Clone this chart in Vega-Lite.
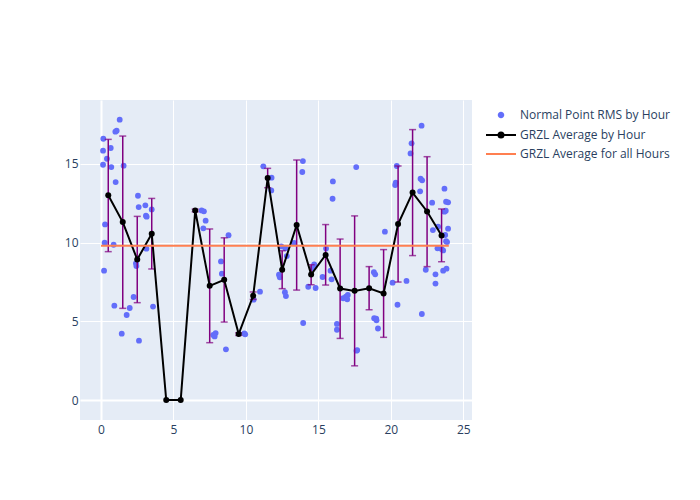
{
  "$schema": "https://vega.github.io/schema/vega-lite/v6.json",
  "autosize": {"type": "none"},
  "padding": {"left": 80, "top": 100, "right": 228, "bottom": 80},
  "width": 392,
  "height": 320,
  "background": "white",
  "config": {
    "view": {"fill": "#e5ecf6", "stroke": null},
    "font": "Open Sans",
    "axis": {
      "domain": false,
      "ticks": false,
      "gridColor": "white",
      "gridWidth": {"condition": {"test": "datum.value === 0", "value": 2}, "value": 1},
      "labelColor": "#2a3f5f",
      "labelFont": "Open Sans",
      "labelFontSize": 12,
      "title": null
    },
    "legend": {
      "orient": "none", "title": null, "padding": 0, "symbolSize": 100,
      "labelFontSize": 12, "labelFont": "Open Sans", "labelColor": "#2a3f5f", "labelOffset": 13,
      "symbolOpacity": 1
    }
  },
  "resolve": {"scale": {"color": "independent"}, "legend": {"color": "independent"}},
  "datasets": {
    "points": [
      {"hour": 0.16, "rms": 16.59}, {"hour": 0.14, "rms": 15.83}, {"hour": 0.67, "rms": 16.0}, {"hour": 0.41, "rms": 15.32},
      {"hour": 0.14, "rms": 14.94}, {"hour": 0.71, "rms": 14.79}, {"hour": 1.29, "rms": 17.8}, {"hour": 0.99, "rms": 17.04},
      {"hour": 1.08, "rms": 17.1}, {"hour": 1.56, "rms": 14.88}, {"hour": 1.01, "rms": 13.84}, {"hour": 0.28, "rms": 11.15},
      {"hour": 0.25, "rms": 9.99}, {"hour": 0.87, "rms": 9.86}, {"hour": 2.55, "rms": 12.97}, {"hour": 2.6, "rms": 12.25},
      {"hour": 3.06, "rms": 12.36}, {"hour": 3.1, "rms": 11.7}, {"hour": 3.15, "rms": 11.64}, {"hour": 3.5, "rms": 12.1},
      {"hour": 3.13, "rms": 9.61}, {"hour": 0.21, "rms": 8.21}, {"hour": 2.41, "rms": 8.68}, {"hour": 2.44, "rms": 8.51},
      {"hour": 2.25, "rms": 6.54}, {"hour": 0.92, "rms": 5.99}, {"hour": 1.98, "rms": 5.84}, {"hour": 1.77, "rms": 5.4},
      {"hour": 3.59, "rms": 5.93}, {"hour": 1.43, "rms": 4.21}, {"hour": 2.62, "rms": 3.77},
      {"hour": 6.94, "rms": 12.04}, {"hour": 7.1, "rms": 11.98}, {"hour": 7.22, "rms": 11.39}, {"hour": 7.06, "rms": 10.9},
      {"hour": 8.8, "rms": 10.46}, {"hour": 8.28, "rms": 8.8}, {"hour": 8.34, "rms": 8.02}, {"hour": 7.75, "rms": 4.13},
      {"hour": 7.91, "rms": 4.25}, {"hour": 7.84, "rms": 4.04}, {"hour": 8.62, "rms": 3.22},
      {"hour": 9.89, "rms": 4.23}, {"hour": 9.95, "rms": 4.17}, {"hour": 10.97, "rms": 6.88}, {"hour": 10.53, "rms": 6.37},
      {"hour": 11.2, "rms": 14.84}, {"hour": 11.77, "rms": 14.12}, {"hour": 11.75, "rms": 13.31},
      {"hour": 12.28, "rms": 7.96}, {"hour": 12.34, "rms": 7.79}, {"hour": 12.44, "rms": 9.75}, {"hour": 12.72, "rms": 9.63},
      {"hour": 12.82, "rms": 9.14}, {"hour": 13.32, "rms": 9.98}, {"hour": 12.69, "rms": 6.84}, {"hour": 12.76, "rms": 6.6},
      {"hour": 13.93, "rms": 15.17}, {"hour": 13.89, "rms": 14.48}, {"hour": 13.95, "rms": 4.89},
      {"hour": 14.3, "rms": 7.19}, {"hour": 14.81, "rms": 7.11}, {"hour": 14.71, "rms": 8.61}, {"hour": 14.6, "rms": 8.38},
      {"hour": 15.29, "rms": 7.81}, {"hour": 15.53, "rms": 9.62}, {"hour": 15.84, "rms": 8.21}, {"hour": 15.91, "rms": 7.66},
      {"hour": 16.0, "rms": 13.88}, {"hour": 15.98, "rms": 12.78},
      {"hour": 16.28, "rms": 4.83}, {"hour": 16.28, "rms": 4.46}, {"hour": 16.71, "rms": 6.46}, {"hour": 16.9, "rms": 6.56},
      {"hour": 16.99, "rms": 6.39}, {"hour": 17.03, "rms": 6.67}, {"hour": 17.63, "rms": 3.13}, {"hour": 17.68, "rms": 3.17},
      {"hour": 17.61, "rms": 14.79},
      {"hour": 18.83, "rms": 8.11}, {"hour": 18.92, "rms": 7.98}, {"hour": 18.85, "rms": 5.19}, {"hour": 18.99, "rms": 5.16},
      {"hour": 19.01, "rms": 5.06}, {"hour": 19.11, "rms": 4.54}, {"hour": 19.59, "rms": 10.69},
      {"hour": 20.41, "rms": 14.86}, {"hour": 20.34, "rms": 13.8}, {"hour": 20.3, "rms": 13.65}, {"hour": 20.12, "rms": 7.45},
      {"hour": 20.46, "rms": 6.05}, {"hour": 21.43, "rms": 16.3}, {"hour": 21.36, "rms": 15.66}, {"hour": 21.08, "rms": 7.56},
      {"hour": 22.12, "rms": 17.42}, {"hour": 22.05, "rms": 14.05}, {"hour": 22.16, "rms": 13.95}, {"hour": 22.02, "rms": 13.25},
      {"hour": 22.85, "rms": 12.53}, {"hour": 22.41, "rms": 8.27}, {"hour": 22.14, "rms": 5.46}, {"hour": 23.7, "rms": 13.42},
      {"hour": 23.81, "rms": 12.59}, {"hour": 23.95, "rms": 12.55}, {"hour": 23.7, "rms": 11.96}, {"hour": 23.79, "rms": 12.02},
      {"hour": 23.26, "rms": 11.0}, {"hour": 23.95, "rms": 10.88}, {"hour": 22.9, "rms": 10.79}, {"hour": 23.75, "rms": 10.48},
      {"hour": 23.81, "rms": 10.08}, {"hour": 23.88, "rms": 10.03}, {"hour": 23.22, "rms": 9.63}, {"hour": 23.5, "rms": 9.59},
      {"hour": 23.61, "rms": 9.5}, {"hour": 23.08, "rms": 7.98}, {"hour": 23.08, "rms": 7.39}, {"hour": 23.61, "rms": 8.21},
      {"hour": 23.84, "rms": 8.34}
    ],
    "avg": [
      {"hour": 0.5, "mean": 13.0}, {"hour": 1.5, "mean": 11.3}, {"hour": 2.5, "mean": 8.92}, {"hour": 3.5, "mean": 10.56},
      {"hour": 4.5, "mean": 0}, {"hour": 5.5, "mean": 0}, {"hour": 6.5, "mean": 12.03}, {"hour": 7.5, "mean": 7.25},
      {"hour": 8.5, "mean": 7.63}, {"hour": 9.5, "mean": 4.19}, {"hour": 10.5, "mean": 6.62}, {"hour": 11.5, "mean": 14.09},
      {"hour": 12.5, "mean": 8.27}, {"hour": 13.5, "mean": 11.11}, {"hour": 14.5, "mean": 7.97}, {"hour": 15.5, "mean": 9.21},
      {"hour": 16.5, "mean": 7.08}, {"hour": 17.5, "mean": 6.93}, {"hour": 18.5, "mean": 7.1}, {"hour": 19.5, "mean": 6.77},
      {"hour": 20.5, "mean": 11.17}, {"hour": 21.5, "mean": 13.17}, {"hour": 22.5, "mean": 11.97}, {"hour": 23.5, "mean": 10.45}
    ],
    "err": [
      {"hour": 0.5, "lo": 9.42, "hi": 16.55}, {"hour": 1.5, "lo": 5.82, "hi": 16.76}, {"hour": 2.5, "lo": 6.18, "hi": 11.66},
      {"hour": 3.5, "lo": 8.32, "hi": 12.8}, {"hour": 6.5, "lo": 11.95, "hi": 12.12}, {"hour": 7.5, "lo": 3.64, "hi": 10.86},
      {"hour": 8.5, "lo": 4.95, "hi": 10.3}, {"hour": 9.5, "lo": 4.1, "hi": 4.27}, {"hour": 10.5, "lo": 6.39, "hi": 6.86},
      {"hour": 11.5, "lo": 13.48, "hi": 14.71}, {"hour": 12.5, "lo": 7.07, "hi": 9.48}, {"hour": 13.5, "lo": 6.98, "hi": 15.24},
      {"hour": 14.5, "lo": 7.32, "hi": 8.59}, {"hour": 15.5, "lo": 7.3, "hi": 11.14}, {"hour": 16.5, "lo": 3.91, "hi": 10.22},
      {"hour": 17.5, "lo": 2.17, "hi": 11.69}, {"hour": 18.5, "lo": 5.73, "hi": 8.47}, {"hour": 19.5, "lo": 3.98, "hi": 9.55},
      {"hour": 20.5, "lo": 7.49, "hi": 14.86}, {"hour": 21.5, "lo": 9.17, "hi": 17.17}, {"hour": 22.5, "lo": 8.47, "hi": 15.45},
      {"hour": 23.5, "lo": 8.78, "hi": 12.13}
    ],
    "overall": [
      {"hour": 0, "avg": 9.8}, {"hour": 24, "avg": 9.8}
    ]
  },
  "layer": [
    {
      "data": {"name": "points"},
      "mark": {"type": "point", "filled": true, "size": 34, "opacity": 1},
      "encoding": {
        "x": {"field": "hour", "type": "quantitative", "title": null, "scale": {"domain": [-1.45, 25.6], "nice": false, "zero": false},
              "axis": {"values": [0, 5, 10, 15, 20, 25], "labelPadding": 4, "title": null}},
        "y": {"field": "rms", "type": "quantitative", "title": null, "scale": {"domain": [-1.27, 19.05], "nice": false, "zero": false},
              "axis": {"values": [0, 5, 10, 15], "labelPadding": 2, "title": null}},
        "color": {"datum": "Normal Point RMS by Hour", "type": "nominal",
          "scale": {"domain": ["Normal Point RMS by Hour"], "range": ["#636efa"]},
          "legend": {
            "legendX": 415, "legendY": 9,
            "symbolType": "M-0.65,0A0.65,0.65 0 1,1 0.65,0A0.65,0.65 0 1,1 -0.65,0Z",
            "symbolFillColor": "#636efa", "symbolStrokeWidth": 0
          }
        }
      }
    },
    {
      "data": {"name": "err"},
      "mark": {"type": "errorbar", "ticks": true, "color": "#800080", "thickness": 1.5, "size": 7},
      "encoding": {
        "x": {"field": "hour", "type": "quantitative", "title": null},
        "y": {"field": "lo", "type": "quantitative", "title": null},
        "y2": {"field": "hi"}
      }
    },
    {
      "data": {"name": "avg"},
      "mark": {"type": "line", "strokeWidth": 2, "point": {"filled": true, "size": 36}},
      "encoding": {
        "x": {"field": "hour", "type": "quantitative", "title": null},
        "y": {"field": "mean", "type": "quantitative", "title": null},
        "color": {"datum": "GRZL Average by Hour", "type": "nominal",
          "scale": {"domain": ["GRZL Average by Hour"], "range": ["black"]},
          "legend": {
            "legendX": 415, "legendY": 29,
            "symbolType": "M-3,0L3,0M-0.5,0A0.5,0.5 0 1,1 0.5,0A0.5,0.5 0 1,1 -0.5,0ZM-0.2,0A0.2,0.2 0 1,1 0.2,0A0.2,0.2 0 1,1 -0.2,0Z",
            "symbolFillColor": "black", "symbolStrokeColor": "black", "symbolStrokeWidth": 2
          }
        }
      }
    },
    {
      "data": {"name": "overall"},
      "mark": {"type": "line", "strokeWidth": 2},
      "encoding": {
        "x": {"field": "hour", "type": "quantitative", "title": null},
        "y": {"field": "avg", "type": "quantitative", "title": null},
        "color": {"datum": "GRZL Average for all Hours", "type": "nominal",
          "scale": {"domain": ["GRZL Average for all Hours"], "range": ["#ff7f50"]},
          "legend": {
            "legendX": 415, "legendY": 48,
            "symbolType": "M-3,0L3,0",
            "symbolFillColor": "transparent", "symbolStrokeColor": "#ff7f50", "symbolStrokeWidth": 2
          }
        }
      }
    }
  ]
}
